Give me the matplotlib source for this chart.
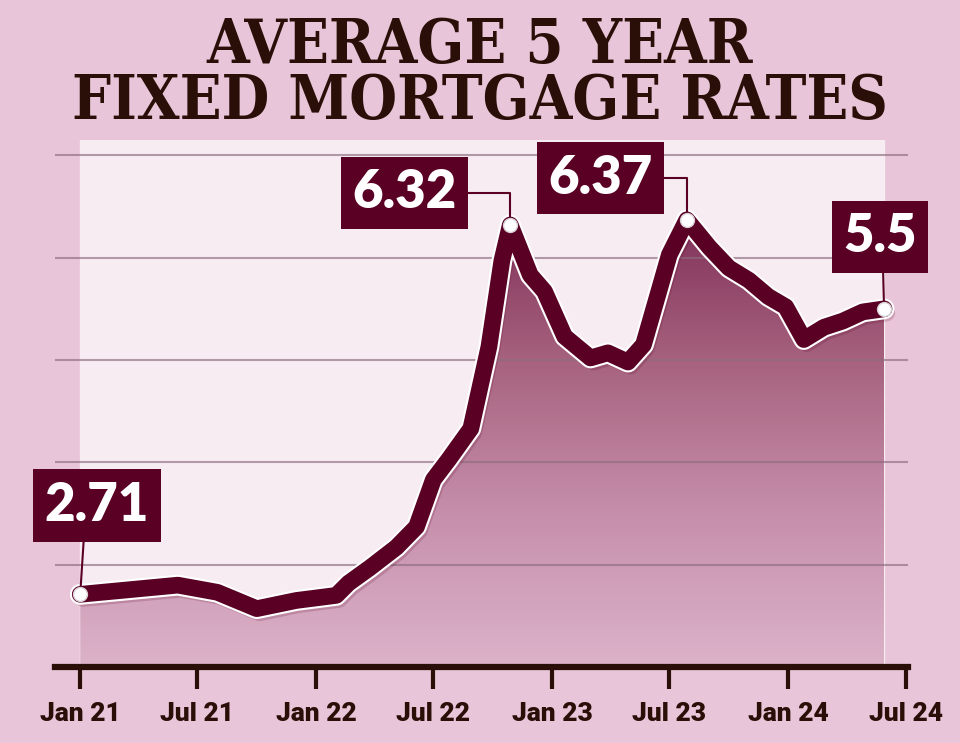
import matplotlib
matplotlib.use('Agg')
import matplotlib.pyplot as plt
import matplotlib.dates as mdates
import matplotlib.patheffects as pe
from matplotlib.colors import LinearSegmentedColormap
import numpy as np
import pandas as pd

# average 5 year fixed rate (%)
dates = ['2021-01-01', '2021-06-01', '2021-08-01', '2021-10-01', '2021-12-01',
         '2022-02-01', '2022-02-20', '2022-03-25', '2022-05-05', '2022-06-05',
         '2022-07-01', '2022-07-25', '2022-08-28', '2022-09-25', '2022-10-15',
         '2022-10-28', '2022-11-28', '2022-12-20', '2023-01-20', '2023-03-01',
         '2023-03-28', '2023-04-28', '2023-05-22', '2023-07-01', '2023-07-28',
         '2023-09-01', '2023-10-01', '2023-11-01', '2023-12-01', '2023-12-28',
         '2024-01-25', '2024-02-25', '2024-03-25', '2024-04-25', '2024-05-28']
rates = [2.71, 2.80, 2.73, 2.57, 2.65,
         2.70, 2.82, 2.97, 3.17, 3.37,
         3.83, 4.03, 4.33, 5.13, 5.97,
         6.32, 5.83, 5.67, 5.23, 5.02,
         5.07, 4.98, 5.15, 6.03, 6.37,
         6.10, 5.90, 5.78, 5.62, 5.52,
         5.20, 5.32, 5.38, 5.47, 5.50]

tick_dates = ['2021-01-01', '2021-07-01', '2022-01-01', '2022-07-01',
              '2023-01-01', '2023-07-01', '2024-01-01', '2024-07-01']
tick_labels = ['Jan 21', 'Jul 21', 'Jan 22', 'Jul 22',
               'Jan 23', 'Jul 23', 'Jan 24', 'Jul 24']
grid_values = [3, 4, 5, 6, 7]

callout_idx = [0, 15, 24, 34]
callout_text = ['2.71', '6.32', '6.37', '5.5']

bg = '#e8c5d8'
light = '#f6ecf1'
maroon = '#5a0024'
dark = '#2a0f08'

x = mdates.date2num(pd.to_datetime(dates))
y = np.array(rates)

fig = plt.figure(figsize=(9.6, 7.43), dpi=100, facecolor=bg)
ax = fig.add_axes([55 / 960, 1 - 667 / 743, 853 / 960, 527 / 743])
ax.set_facecolor(bg)

# light panel over the data range
ax.axvspan(x[0], x[-1], color=light, zorder=0)

# gradient fill under the line
cmap = LinearSegmentedColormap.from_list('fill', ['#dcb3c9', '#c68fac', '#a7637f', '#7f2f57'])
grad = np.linspace(0, 1, 256).reshape(-1, 1)
poly = ax.fill_between(x, y, 2, color='none', zorder=1)
img = ax.imshow(grad, extent=[x[0], x[-1], 2, 6.45], aspect='auto', cmap=cmap,
                origin='lower', zorder=1)
img.set_clip_path(poly.get_paths()[0], transform=ax.transData)

for g in grid_values:
    ax.axhline(g, color='#8c6c7e', alpha=0.65, lw=1.5, zorder=3)

ax.plot(x, y, color=maroon, lw=12, solid_joinstyle='round', solid_capstyle='round', zorder=5,
        path_effects=[pe.SimpleLineShadow(offset=(2, -3), shadow_color='#5a0024', alpha=0.18),
                      pe.Stroke(linewidth=15, foreground='white'), pe.Normal()])

# callouts
offsets = [(12, 64), (-76, 23), (-62, 30), (-3, 52)]
relpos = [(0.38, 0), (1, 0.5), (1, 0.5), (0.54, 0)]
conn = ['arc3', 'angle,angleA=0,angleB=90,rad=0', 'angle,angleA=0,angleB=90,rad=0', 'arc3']
for i, t, off, rp, cs in zip(callout_idx, callout_text, offsets, relpos, conn):
    ax.annotate(t, xy=(x[i], y[i]), xytext=off, textcoords='offset points',
                ha='center', va='center', color='white', fontsize=38,
                fontweight='heavy', family=['Lato', 'DejaVu Sans'],
                bbox=dict(boxstyle='square,pad=0.22', fc=maroon, ec='none'),
                arrowprops=dict(arrowstyle='-', color=maroon, lw=1.5, shrinkA=0, shrinkB=0,
                                relpos=rp, connectionstyle=cs),
                zorder=7, annotation_clip=False)
ax.plot(x[callout_idx], y[callout_idx], 'o', ms=10, mfc='white', mec='#d8d0d4', mew=1, zorder=8)

ax.set_xlim(mdates.date2num(pd.Timestamp('2020-11-23')), mdates.date2num(pd.Timestamp('2024-07-04')))
ax.set_ylim(2, 7.15)

ax.set_xticks(mdates.date2num(pd.to_datetime(tick_dates)))
ax.set_xticklabels(tick_labels, fontsize=19, fontweight='heavy', color=dark,
                   family=['Roboto', 'DejaVu Sans'])
ax.tick_params(axis='x', length=16, width=3, color=dark, pad=9)
ax.set_yticks([])
for s in ['top', 'left', 'right']:
    ax.spines[s].set_visible(False)
ax.spines['bottom'].set_linewidth(4.5)
ax.spines['bottom'].set_color(dark)
ax.spines['bottom'].set_zorder(6)

fig.text(0.5, 1 - 74 / 743, 'AVERAGE 5 YEAR\nFIXED MORTGAGE RATES', ha='center', va='center',
         fontsize=44, fontweight='bold', color=dark, family='DejaVu Serif',
         fontstretch='condensed', linespacing=0.92, multialignment='center')

fig.savefig('out.png', dpi=100, facecolor=bg)
